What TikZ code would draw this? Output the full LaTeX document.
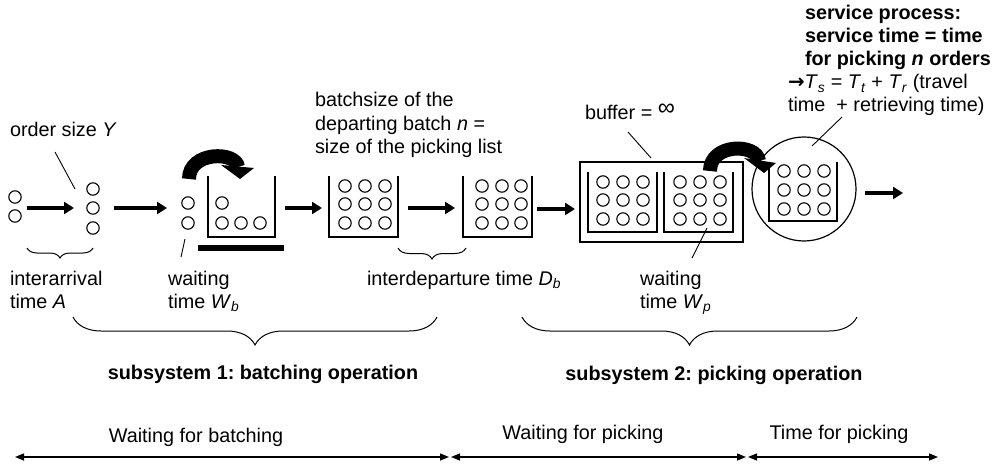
\documentclass[tikz,border=0pt]{standalone}
\usepackage{fontspec}
\setmainfont{Liberation Sans}
\newfontfamily\symfont{DejaVu Sans}
\usetikzlibrary{arrows.meta,decorations.pathreplacing}
\frenchspacing

% first-line baseline of a stacked, left-aligned label
\newcommand\stk[1]{\begin{tabular}[t]{@{}l@{}}#1\end{tabular}}
\newcommand\sub[2]{\textit{#1}\textsubscript{\textit{#2}}}

\begin{document}
\begin{tikzpicture}[x=1pt,y=-1pt,
  every node/.style={inner sep=0pt, outer sep=0pt,
    font=\fontsize{19.8}{23.5}\selectfont},
  lbl/.style={anchor=base west},
  ctr/.style={anchor=base},
  bin/.style={line width=1.8pt},
  thinbin/.style={line width=1.2pt},
  order/.style={line width=1.1pt},
  flow/.style={line width=3.2pt, -{Triangle[length=10pt,width=12pt]}},
  leader/.style={line width=0.9pt},
  brc/.style={decorate, decoration={brace,mirror,amplitude=#1}, line width=1pt},
  span/.style={line width=1.4pt,
    {Triangle[length=9pt,width=7pt]}-{Triangle[length=9pt,width=7pt]}},
  swoop/.style={line width=14pt},
]
\useasboundingbox (0,0) rectangle (992,470);

% ---------- orders (small circles) ----------
\foreach \p in {(15,197),(15,216),
                (93,189),(93,208),(93,228),
                (188,203),(188,223),
                (222,203),(222,223),(241,223),(260,223)}
  \draw[order] \p circle[radius=6.2];
\foreach \x in {345,365,385} \foreach \y in {186,204,223}
  \draw[order] (\x,\y) circle[radius=6.2];
\foreach \x in {482,502,521} \foreach \y in {186,204,223}
  \draw[order] (\x,\y) circle[radius=6.2];
\foreach \x in {603,623,643,680,700,720} \foreach \y in {182,200,219}
  \draw[order] (\x,\y) circle[radius=6.2];
\foreach \x in {784,804,824} \foreach \y in {171,190,209}
  \draw[order] (\x,\y) circle[radius=6.2];

% ---------- containers ----------
\draw[bin] (208,176) -- (208,237) -- (275,237) -- (275,176);
\fill (198,245) rectangle (284,251);
\draw[bin] (329,176) -- (329,237) -- (398,237) -- (398,176);
\draw[bin] (463,176) -- (463,237) -- (532,237) -- (532,176);
% buffer with two batches
\draw[bin] (580,162) rectangle (743,242);
\draw[thinbin] (588,172) -- (588,232) -- (657,232) -- (657,172);
\draw[thinbin] (664,172) -- (664,232) -- (733,232) -- (733,172);
% picker (server)
\draw[thinbin] (804,189) circle[radius=52];
\draw[thinbin] (769,162) -- (769,221) -- (837,221) -- (837,162);

% ---------- curved transfer arrows ----------
\draw[swoop] (189,179) .. controls (189,151) and (236,151) .. (238,167);
\fill (221,165) -- (254,168) -- (240,179) -- cycle;
\draw[swoop] (710,171) .. controls (710,143) and (757,143) .. (759,161);
\fill (744,158) -- (776,163) -- (764,173) -- cycle;

% ---------- flow arrows ----------
\coordinate (a1s) at (27,208);  \coordinate (a1e) at (74,208);
\coordinate (a2s) at (114,208); \coordinate (a2e) at (167,208);
\coordinate (a3s) at (285,208); \coordinate (a3e) at (322,208);
\coordinate (a4s) at (408,208); \coordinate (a4e) at (455,208);
\coordinate (a5s) at (537,209); \coordinate (a5e) at (575,209);
\coordinate (a6s) at (865,193); \coordinate (a6e) at (903,193);
\draw[flow] (a1s) -- (a1e);
\draw[flow] (a2s) -- (a2e);
\draw[flow] (a3s) -- (a3e);
\draw[flow] (a4s) -- (a4e);
\draw[flow] (a5s) -- (a5e);
\draw[flow] (a6s) -- (a6e);

% ---------- labels ----------
\node[lbl] (ordersize) at (10,137) {order size \textit{Y}};
\node[lbl] (interarr) at (10,285) {\stk{interarrival\\time \textit{A}}};
\node[lbl] (waitb) at (168,285) {\stk{waiting\\time \sub{W}{b}}};
\node[lbl] (interdep) at (367,285) {interdeparture time \sub{D}{b}};
\node[lbl] (waitp) at (640,285) {\stk{waiting\\time \sub{W}{p}}};
\node[lbl] (batchsize) at (315,107)
  {\stk{batchsize of the\\departing batch \textit{n} =\\size of the picking list}};
\node[lbl] (buffer) at (585,120)
  {buffer = \raisebox{4pt}{\fontsize{24}{24}\selectfont ∞}};
\node[lbl, font=\fontsize{19.8}{23}\selectfont\bfseries] (service) at (805,20)
  {\stk{service process:\\service time = time\\for picking \textit{n} orders}};
\node[lbl, font=\fontsize{19.8}{23}\selectfont] (servtime) at (788,89)
  {\stk{{\symfont\bfseries →}\sub{T}{s} = \sub{T}{t} + \sub{T}{r} (travel\\time\ \ + retrieving time)}};

% leader lines
\coordinate (l1a) at (55,152);  \coordinate (l1b) at (75,189);
\coordinate (l2a) at (185,239); \coordinate (l2b) at (181,257);
\coordinate (l3a) at (628,132); \coordinate (l3b) at (651,158);
\coordinate (l4a) at (707,228); \coordinate (l4b) at (692,258);
\coordinate (l5a) at (842,117); \coordinate (l5b) at (812,146);
\draw[leader] (l1a) -- (l1b);
\draw[leader] (l2a) -- (l2b);
\draw[leader] (l3a) -- (l3b);
\draw[leader] (l4a) -- (l4b);
\draw[leader] (l5a) -- (l5b);

% ---------- braces ----------
\coordinate (b1a) at (27,248);  \coordinate (b1b) at (93,248);
\coordinate (b2a) at (398,248); \coordinate (b2b) at (466,248);
\coordinate (b3a) at (73,317);  \coordinate (b3b) at (437,317);
\coordinate (b4a) at (522,317); \coordinate (b4b) at (857,317);
\draw[brc=10] (b1a) -- (b1b);
\draw[brc=11] (b2a) -- (b2b);
\draw[brc=28] (b3a) -- (b3b);
\draw[brc=28] (b4a) -- (b4b);

\node[ctr, font=\fontsize{19.8}{23.5}\selectfont\bfseries] (sub1) at (263,379)
  {subsystem 1: batching operation};
\node[ctr, font=\fontsize{19.8}{23.5}\selectfont\bfseries] (sub2) at (714,380)
  {subsystem 2: picking operation};

% ---------- time line ----------
\coordinate (t0) at (15,457);
\coordinate (t1) at (449,457);  \coordinate (t1b) at (451,457);
\coordinate (t2) at (746,457);  \coordinate (t2b) at (748,457);
\coordinate (t3) at (938,457);
\draw[span] (t0) -- (t1);
\draw[span] (t1b) -- (t2);
\draw[span] (t2b) -- (t3);
\node[ctr] (wb) at (196,442) {Waiting for batching};
\node[ctr] (wp) at (583,439) {Waiting for picking};
\node[ctr] (tp) at (839,439) {Time for picking};
\end{tikzpicture}
\end{document}
